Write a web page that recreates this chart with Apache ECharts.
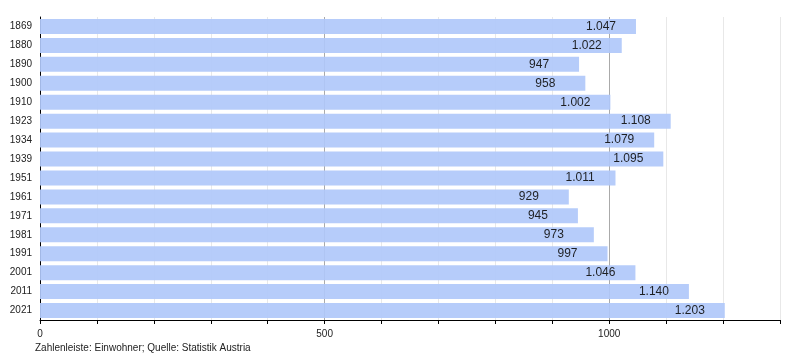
<!DOCTYPE html>
<html><head><meta charset="utf-8">
<script src="https://cdn.jsdelivr.net/npm/echarts@6/dist/echarts.min.js"></script>
<style>html,body{margin:0;padding:0;background:#fff}#c{width:800px;height:360px}</style>
</head><body><div id="c"></div>
<script>
const years = ['1869','1880','1890','1900','1910','1923','1934','1939','1951','1961','1971','1981','1991','2001','2011','2021'];
const population = [1047,1022,947,958,1002,1108,1079,1095,1011,929,945,973,997,1046,1140,1203];
const xTickLabels = [0,500,1000];

const fmt = v => v >= 1000 ? Math.floor(v/1000) + '.' + String(v%1000).padStart(3,'0') : String(v);
const chart = echarts.init(document.getElementById('c'), null, {renderer:'canvas'});
chart.setOption({
  animation:false,
  textStyle:{fontFamily:'Liberation Sans, Arial, sans-serif'},
  grid:{left:40, right:20, top:17, bottom:40},
  xAxis:{type:'value', min:0, max:1300, interval:100,
    axisLine:{show:true, lineStyle:{color:'#000', width:1}},
    axisTick:{show:true, length:4, lineStyle:{color:'#000'}},
    axisLabel:{fontSize:10, color:'#222', margin:9,
      formatter: v => xTickLabels.indexOf(v) >= 0 ? String(v) : ''},
    splitLine:{show:true, lineStyle:{color:['#aaaaaa','#e8e8e8','#e8e8e8','#e8e8e8','#e8e8e8'], width:1}}
  },
  yAxis:{type:'category', data:years, inverse:true,
    axisLine:{show:true, lineStyle:{color:'#000', width:1}},
    axisTick:{show:false},
    axisLabel:{fontSize:10, color:'#222', margin:8}
  },
  series:[{type:'bar', data:population, barWidth:15,
    itemStyle:{color:'#b0c8fa', opacity:0.92},
    label:{show:true, position:['100%','50%'], align:'left', verticalAlign:'middle', offset:[-50,0],
      fontSize:12, color:'#111', formatter: p => fmt(p.value)}
  }],
  graphic:[{type:'text', left:35, top:343, style:{text:'Zahlenleiste: Einwohner; Quelle: Statistik Austria', fontSize:10, fill:'#222', fontFamily:'Liberation Sans, Arial, sans-serif'}}]
});
</script></body></html>
